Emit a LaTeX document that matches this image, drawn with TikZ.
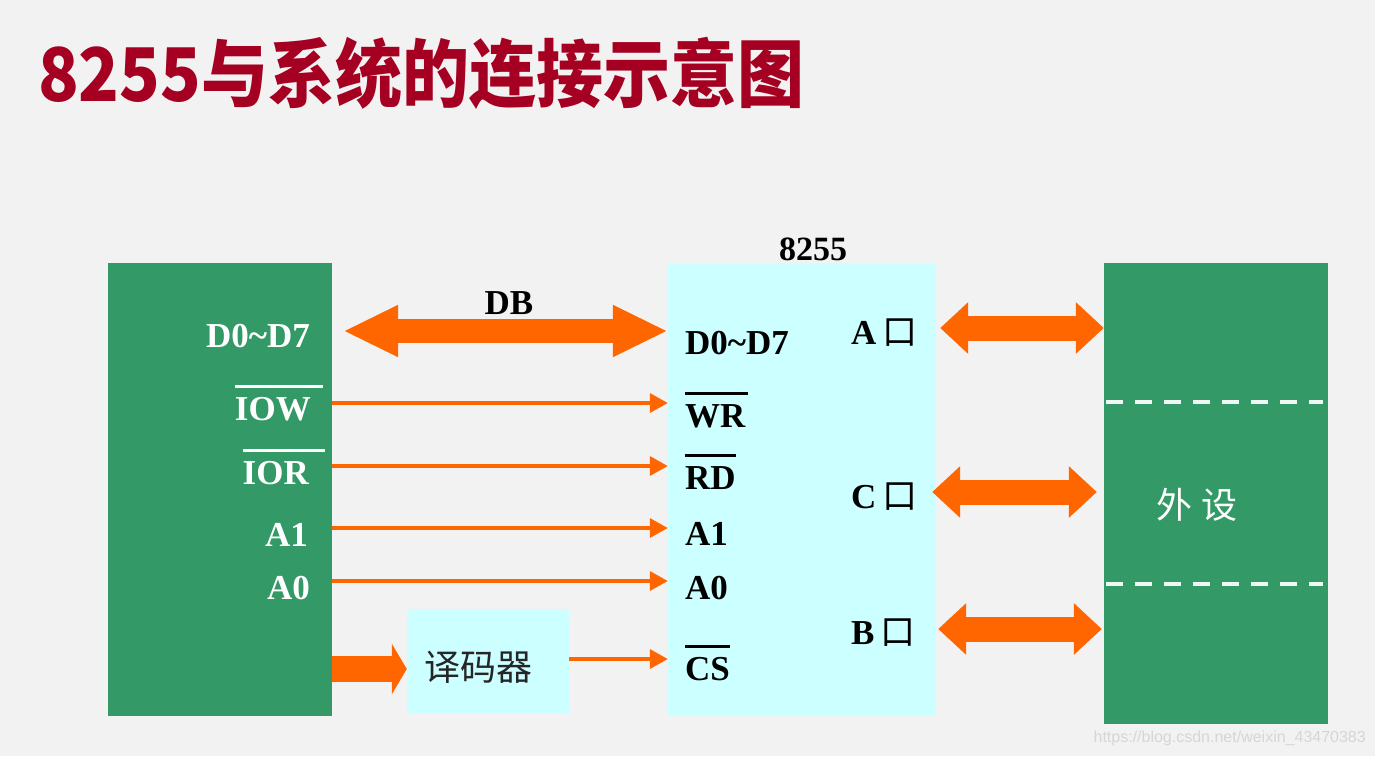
\documentclass[tikz,border=0pt]{standalone}
\usepackage{fontspec}
\setmainfont{Liberation Serif}
\newfontfamily\cjk{Noto Sans CJK SC}
\newfontfamily\titlefont{Noto Sans CJK SC}[FakeStretch=0.905]
\newfontfamily\wmfont{Liberation Sans}
\usetikzlibrary{arrows.meta, positioning}
\definecolor{pagegray}{RGB}{242,242,242}
\definecolor{titlered}{RGB}{165,0,33}
\definecolor{boardgreen}{RGB}{51,153,102}
\definecolor{chipcyan}{RGB}{204,255,255}
\definecolor{busorange}{RGB}{255,102,0}
\newcommand\ovl[2][0pt]{\setbox0\hbox{#2}\vbox{\hrule height 3pt width \dimexpr\wd0+#1\relax\kern 9pt\box0}}

\begin{document}
\begin{tikzpicture}[
    x=1pt, y=-1pt,
    greenbox/.style={rectangle, fill=boardgreen, inner sep=0pt},
    cyanbox/.style={rectangle, fill=chipcyan, inner sep=0pt},
    pinlabel/.style={inner sep=0pt, font=\fontsize{35}{40}\selectfont\bfseries},
    portlabel/.style={pinlabel, anchor=base west},
    sig/.style={-{Triangle[length=18pt,width=19pt]}, draw=busorange, line width=3.5pt},
    feed/.style={-{Triangle[length=15pt,width=50pt]}, draw=busorange, line width=26pt},
    bus/.style={{Triangle[length=55pt,width=48pt]}-{Triangle[length=55pt,width=48pt]}, draw=busorange, line width=24pt},
    port/.style={{Triangle[length=28pt,width=50pt]}-{Triangle[length=28pt,width=50pt]}, draw=busorange, line width=25pt},
    dashsep/.style={draw=white!92!boardgreen, line width=3.5pt, dash pattern=on 17pt off 12pt}
]
    \fill[pagegray] (0,0) rectangle (1375,756);
    \useasboundingbox (0,0) rectangle (1375,756);

    % title
    \node[anchor=base west, inner sep=0pt, text=titlered, font=\titlefont\bfseries\fontsize{74}{80}\selectfont] (title) at (38,101) {8255与系统的连接示意图};

    % boxes
    \node[greenbox, minimum width=224pt, minimum height=453pt] (cpu) at (220,489.5) {};
    \node[cyanbox, minimum width=268pt, minimum height=452pt] (chip) at (802,489) {};
    \node[greenbox, minimum width=224pt, minimum height=461pt] (periph) at (1216,493.5) {};
    \node[cyanbox, minimum width=162pt, minimum height=105pt] (decoder) at (488,661.5) {};

    \node[pinlabel, font=\fontsize{34}{40}\selectfont\bfseries, anchor=base] (chipname) at (813,260) {8255};
    \node[pinlabel] (dblabel) at (509,303) {DB};
    \node[text=white, font=\cjk\fontsize{36}{40}\selectfont] (periphname) at (1197,505) {外\hspace{9pt}设};
    \node[text=black!85, font=\cjk\fontsize{36}{40}\selectfont] (decodername) at (478,667) {译码器};

    % system side pins
    \node[pinlabel, text=white, anchor=base east] (cpud) at (310,347) {D0\textasciitilde D7};
    \node[pinlabel, text=white, anchor=base east] (cpuiow) at (323,420) {\ovl[12pt]{IOW}};
    \node[pinlabel, text=white, anchor=base east] (cpuior) at (325,484) {\ovl[16pt]{IOR}};
    \node[pinlabel, text=white, anchor=base east] (cpua1) at (308,546) {A1};
    \node[pinlabel, text=white, anchor=base east] (cpua0) at (310,599) {A0};

    % 8255 side pins
    \node[portlabel] (chipd) at (685,354) {D0\textasciitilde D7};
    \node[portlabel] (chipwr) at (685,427) {\ovl[3pt]{WR}};
    \node[portlabel] (chiprd) at (685,489) {\ovl{RD}};
    \node[portlabel] (chipa1) at (685,545) {A1};
    \node[portlabel] (chipa0) at (685,599) {A0};
    \node[portlabel] (chipcs) at (685,680) {\ovl{CS}};
    \node[portlabel] (porta) at (851,344) {A\,{\cjk\mdseries 口}};
    \node[portlabel] (portc) at (851,508) {C\,{\cjk\mdseries 口}};
    \node[portlabel] (portb) at (851,644) {B\,{\cjk\mdseries 口}};

    % connections
    \draw[bus, shorten <=11pt] (cpu.east |- 0,331) -- (chip.west |- 0,331);
    \draw[sig] (cpu.east |- 0,403) -- (chip.west |- 0,403);
    \draw[sig] (cpu.east |- 0,466) -- (chip.west |- 0,466);
    \draw[sig] (cpu.east |- 0,528) -- (chip.west |- 0,528);
    \draw[sig] (cpu.east |- 0,581) -- (chip.west |- 0,581);
    \draw[feed] (cpu.east |- 0,669) -- (decoder.west |- 0,669);
    \draw[sig] (decoder.east |- 0,659) -- (chip.west |- 0,659);
    \draw[port, shorten <=4pt] (chip.east |- 0,328) -- (periph.west |- 0,328);
    \draw[port, shorten <=-4pt, shorten >=7pt] (chip.east |- 0,492) -- (periph.west |- 0,492);
    \draw[port, shorten <=2pt, shorten >=2pt] (chip.east |- 0,629) -- (periph.west |- 0,629);

    % port separators
    \draw[dashsep, shorten <=2pt, shorten >=5pt] (periph.west |- 0,402) -- (periph.east |- 0,402);
    \draw[dashsep, shorten <=2pt, shorten >=5pt] (periph.west |- 0,584) -- (periph.east |- 0,584);

    \node[anchor=east, inner sep=0pt, text=white!84!black, font=\wmfont\fontsize{16}{18}\selectfont] (mark) at (1366,738) {https://blog.csdn.net/weixin\_43470383};
\end{tikzpicture}
\end{document}
